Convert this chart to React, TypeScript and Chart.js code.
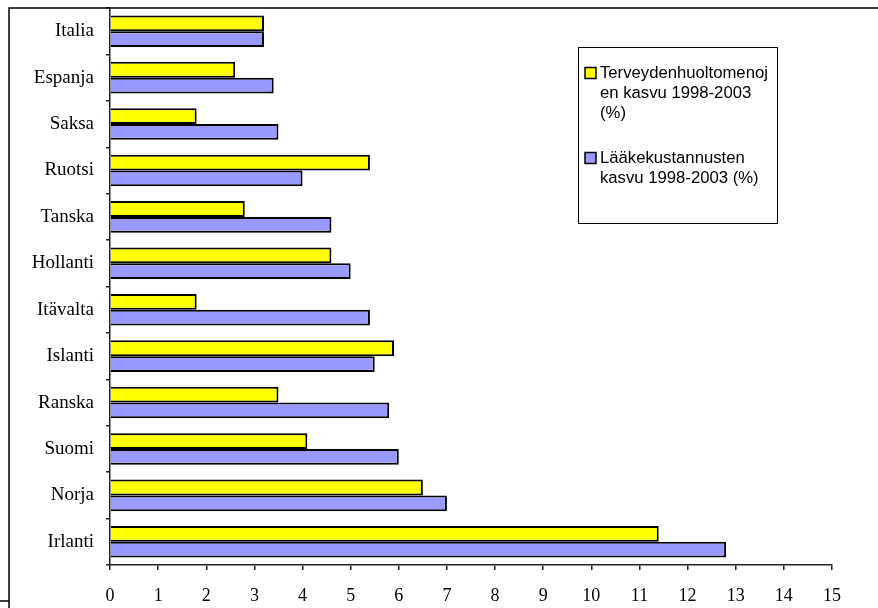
import React, { useEffect, useRef } from "react";
import { Chart, registerables } from "chart.js";

Chart.register(...registerables);

const countries = [
  "Italia", "Espanja", "Saksa", "Ruotsi", "Tanska", "Hollanti",
  "Itävalta", "Islanti", "Ranska", "Suomi", "Norja", "Irlanti",
];
const healthSpendingGrowth = [3.2, 2.6, 1.8, 5.4, 2.8, 4.6, 1.8, 5.9, 3.5, 4.1, 6.5, 11.4];
const drugCostGrowth = [3.2, 3.4, 3.5, 4.0, 4.6, 5.0, 5.4, 5.5, 5.8, 6.0, 7.0, 12.8];
const seriesLabels = [
  "Terveydenhuoltomenojen kasvu 1998-2003 (%)",
  "Lääkekustannusten kasvu 1998-2003 (%)",
];
const legendLines = [
  ["Terveydenhuoltomenoj", "en kasvu 1998-2003", "(%)"],
  ["Lääkekustannusten", "kasvu 1998-2003 (%)"],
];
const seriesColors = ["#FFFF00", "#9999FF"];

const serif = "'Liberation Serif', 'Times New Roman', serif";
const sans = "'Liberation Sans', Arial, sans-serif";

// Outer frame lines and the boxed legend
const framePlugin = {
  id: "frame",
  afterDraw(chart: any) {
    const ctx = chart.ctx;
    ctx.save();
    ctx.strokeStyle = "#000";
    ctx.lineWidth = 1.5;
    ctx.beginPath();
    ctx.moveTo(9, 608);
    ctx.lineTo(9, 8);
    ctx.lineTo(878, 8);
    ctx.moveTo(0, 601);
    ctx.lineTo(9, 601);
    ctx.stroke();

    // legend box
    const bx = 578, by = 47, bw = 199, bh = 176;
    ctx.fillStyle = "#fff";
    ctx.fillRect(bx, by, bw, bh);
    ctx.lineWidth = 1;
    ctx.strokeStyle = "#000";
    ctx.strokeRect(bx + 0.5, by + 0.5, bw, bh);

    ctx.font = `16.7px ${sans}`;
    ctx.textBaseline = "middle";
    ctx.textAlign = "left";
    const starts = [73, 158];
    legendLines.forEach((lines, i) => {
      const y0 = starts[i];
      ctx.fillStyle = seriesColors[i];
      ctx.fillRect(585, y0 - 5.5, 11, 11);
      ctx.strokeStyle = "#000";
      ctx.lineWidth = 1.5;
      ctx.strokeRect(585, y0 - 5.5, 11, 11);
      ctx.fillStyle = "#000";
      lines.forEach((t, j) => ctx.fillText(t, 600, y0 + j * 20));
    });
    ctx.restore();
  },
};

export default function App() {
  const ref = useRef<HTMLCanvasElement | null>(null);

  useEffect(() => {
    document.body.style.margin = "0";
    const chart = new Chart(ref.current as HTMLCanvasElement, {
      type: "bar",
      data: {
        labels: countries,
        datasets: [
          {
            label: seriesLabels[0],
            data: healthSpendingGrowth,
            backgroundColor: seriesColors[0],
            borderColor: "#000",
            borderWidth: 2,
            categoryPercentage: 0.68,
            barPercentage: 1,
          },
          {
            label: seriesLabels[1],
            data: drugCostGrowth,
            backgroundColor: seriesColors[1],
            borderColor: "#000",
            borderWidth: 2,
            categoryPercentage: 0.68,
            barPercentage: 1,
          },
        ],
      },
      options: {
        indexAxis: "y",
        animation: false,
        responsive: false,
        maintainAspectRatio: false,
        layout: { padding: { left: 0, top: 8, right: 46, bottom: 0 } },
        plugins: {
          legend: { display: false },
          tooltip: { enabled: false },
        },
        scales: {
          x: {
            min: 0,
            max: 15,
            afterFit: (s: any) => {
              s.height = 43;
              s.paddingLeft = 0;
              s.paddingRight = 0;
            },
            ticks: {
              stepSize: 1,
              color: "#000",
              font: { family: serif, size: 18 },
              padding: 15,
              maxRotation: 0,
            },
            grid: {
              drawOnChartArea: false,
              drawTicks: true,
              tickLength: 5,
              color: "#222",
              lineWidth: 1.5,
            },
            border: { display: true, color: "#222", width: 1.5 },
          },
          y: {
            afterFit: (s: any) => {
              s.width = 110;
              s.paddingTop = 0;
              s.paddingBottom = 0;
            },
            ticks: {
              color: "#000",
              font: { family: serif, size: 19 },
              padding: 12,
            },
            grid: {
              drawOnChartArea: false,
              drawTicks: true,
              tickLength: 4,
              color: "#222",
              lineWidth: 1.5,
            },
            border: { display: true, color: "#222", width: 1.5 },
          },
        },
      },
      plugins: [framePlugin],
    } as any);
    return () => chart.destroy();
  }, []);

  return <canvas ref={ref} width={878} height={608} style={{ display: "block" }} />;
}
